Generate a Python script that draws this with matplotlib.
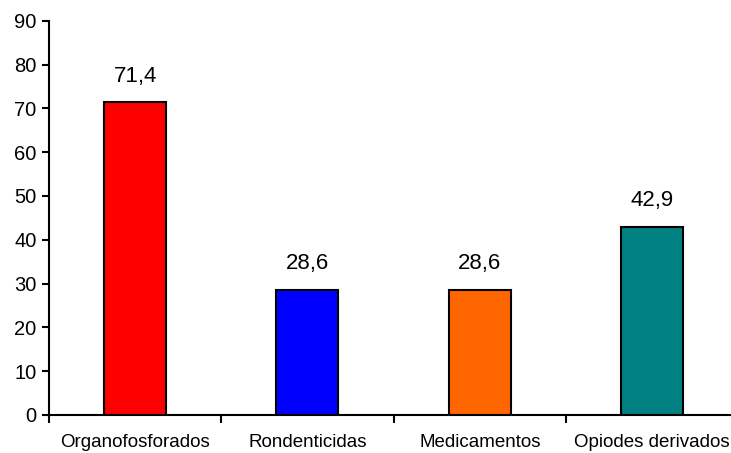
import matplotlib.pyplot as plt
import matplotlib

matplotlib.rcParams['font.family'] = ['Liberation Sans', 'DejaVu Sans']

categorias = ['Organofosforados', 'Rondenticidas', 'Medicamentos', 'Opiodes derivados']
valores = [71.4, 28.6, 28.6, 42.9]
cores = ['#FF0000', '#0000FF', '#FF6600', '#008080']

fig = plt.figure(figsize=(7.31, 4.53), dpi=100)
ax = fig.add_axes([0.067, 0.084, 0.943, 0.870])

x = range(len(categorias))
ax.bar(x, valores, width=0.36, color=cores, edgecolor='black', linewidth=1.5)

# rótulos com vírgula decimal
for i, v in zip(x, valores):
    ax.text(i, v + 3.6, f'{v:.1f}'.replace('.', ','), ha='center', va='bottom', fontsize=16)

ax.set_xlim(-0.5, len(categorias) - 0.5)
ax.set_ylim(0, 90)
ax.set_yticks(range(0, 91, 10))
ax.tick_params(axis='y', labelsize=14.5, length=5, width=1.5, direction='out', pad=4)

# ticks do eixo x nas divisões entre categorias
ax.set_xticks([i - 0.5 for i in x])
ax.set_xticklabels([])
ax.set_xticks(list(x), minor=True)
ax.set_xticklabels(categorias, minor=True, fontsize=13.5)
ax.tick_params(axis='x', which='major', length=6, width=1.5, direction='out')
ax.tick_params(axis='x', which='minor', length=0, pad=14)

for lado in ['top', 'right']:
    ax.spines[lado].set_visible(False)
for lado in ['left', 'bottom']:
    ax.spines[lado].set_linewidth(1.5)

fig.savefig('out.png', dpi=100)
